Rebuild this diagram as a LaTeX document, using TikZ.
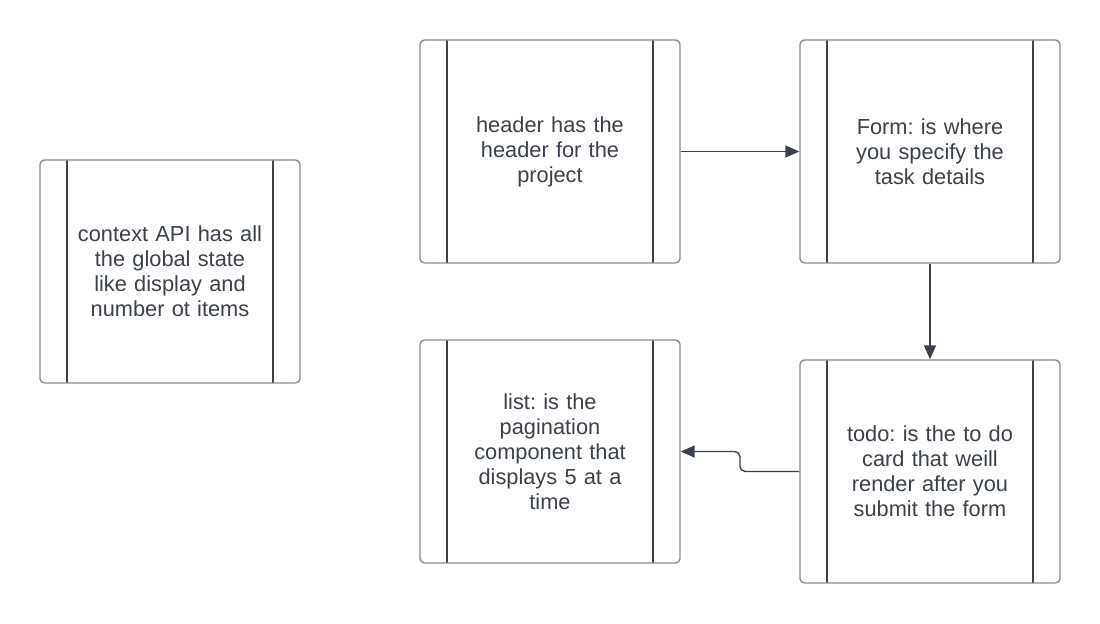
\documentclass[tikz,border=0pt]{standalone}
\usepackage{fontspec}
\setmainfont{Liberation Sans}
\frenchspacing
\usetikzlibrary{arrows.meta}
\definecolor{slate}{HTML}{3A414A}

\begin{document}
\begin{tikzpicture} [
        x=0.02cm, y=-0.02cm,
        proc/.style={
            align=center,
            rectangle,
            rounded corners=2.5pt,
            draw=black!45,
            line width=0.8pt,
            minimum width=5.2cm,
            minimum height=4.46cm,
            text width=4.4cm,
            font=\fontsize{12.4}{14.3}\selectfont,
            text=slate,
            path picture={
                \draw[slate,line width=0.7pt]
                    ([xshift=0.54cm]path picture bounding box.north west) --
                    ([xshift=0.54cm]path picture bounding box.south west);
                \draw[slate,line width=0.7pt]
                    ([xshift=-0.54cm]path picture bounding box.north east) --
                    ([xshift=-0.54cm]path picture bounding box.south east);
            }},
        link/.style={
            draw=slate,
            line width=0.8pt,
            -{Triangle[length=2.8mm,width=2.4mm]}}]

    \useasboundingbox (0,0) rectangle (1100,623);

    % boxes
    \node[proc] (context) at (170,271.5) {context API has all\\the global state\\like display and\\number ot items};
    \node[proc] (header) at (550,151.5) {header has the\\header for the\\project};
    \node[proc] (form) at (930,151.5) {Form: is where\\you specify the\\task details};
    \node[proc] (list) at (550,451.5) {list: is the\\pagination\\component that\\displays 5 at a\\time};
    \node[proc] (todo) at (930,471.5) {todo: is the to do\\card that weill\\render after you\\submit the form};

    % connections
    \draw[link] (header.east) -> (form.west);
    \draw[link] (form.south) -> (todo.north);
    \coordinate (bend) at (740,461);
    \draw[link,rounded corners=3pt] (todo.west) -| (bend) |- (list.east);

\end{tikzpicture}
\end{document}
